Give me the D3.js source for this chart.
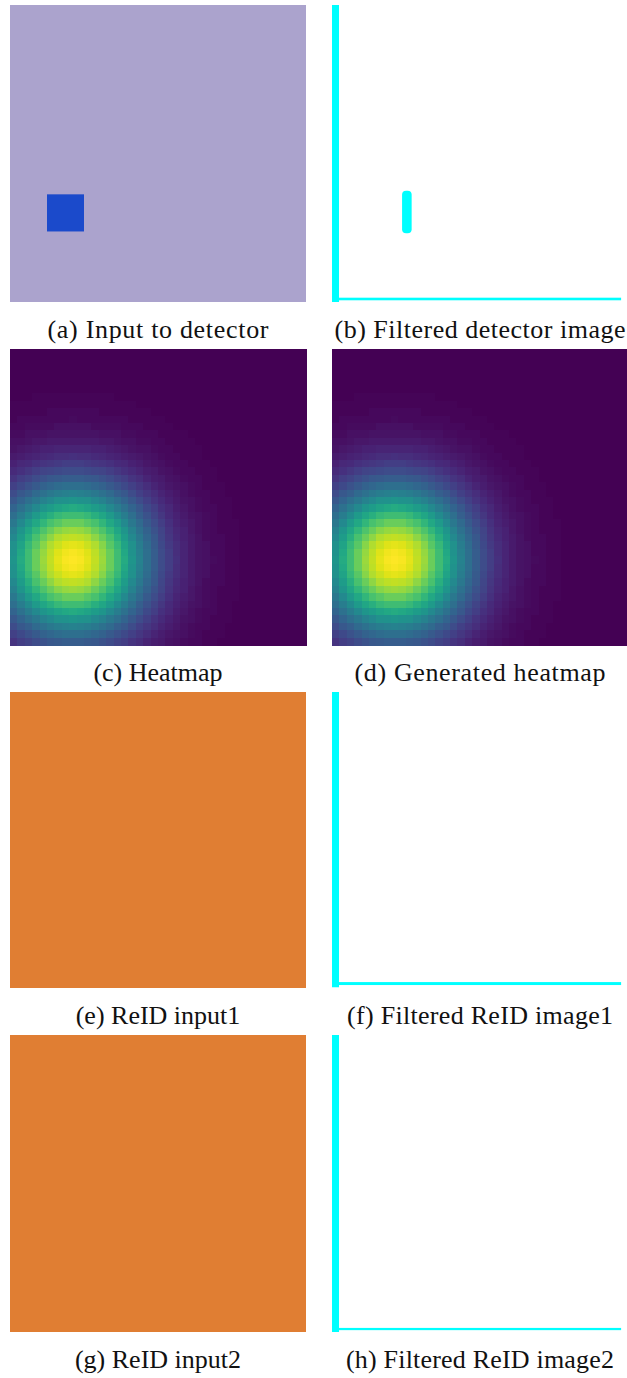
<!DOCTYPE html>
<html>
<head>
<meta charset="utf-8">
<script src="https://cdn.jsdelivr.net/npm/d3@7"></script>
<style>
  html, body { margin: 0; padding: 0; background: #ffffff; }
  svg { display: block; }
</style>
</head>
<body>
<svg id="chart" width="627" height="1378"></svg>
<script>
// ---------------- DATA ----------------
const captions = [
  "(a) Input to detector", "(b) Filtered detector image",
  "(c) Heatmap", "(d) Generated heatmap",
  "(e) ReID input1", "(f) Filtered ReID image1",
  "(g) ReID input2", "(h) Filtered ReID image2"
];

// image grid is 40 x 40 units
const gridSize = 40;

// (a) detector input: target square (grid units)
const detectorSquare = [{ x0: 5, x1: 10, y0: 25.5, y1: 30.5 }];

// cyan segments of filtered images (grid units)
const filteredDetector = [
  { x0: 0, x1: 0.95, y0: 0, y1: 40 },
  { x0: 0.95, x1: 39.2, y0: 39.42, y1: 39.77 },
  { x0: 9.5, x1: 10.8, y0: 25.0, y1: 30.75 }
];
const filteredReID1 = [
  { x0: 0, x1: 0.95, y0: 0, y1: 39.9 },
  { x0: 0.95, x1: 39.2, y0: 39.2, y1: 39.6 }
];
const filteredReID2 = [
  { x0: 0, x1: 0.95, y0: 0, y1: 40 },
  { x0: 0.95, x1: 39.2, y0: 39.45, y1: 39.75 }
];

// heatmap values in percent (rows top -> bottom, cols left -> right)
const heatmapRows = [
  [0,0,0,0,0,0,0,0,0,0,0,0,0,0,0,0,0,0,0,0,0,0,0,0,0,0,0,0,0,0,0,0,0,0,0,0,0,0,0,0],
  [0,0,0,0,0,0,0,0,0,0,0,0,0,0,0,0,0,0,0,0,0,0,0,0,0,0,0,0,0,0,0,0,0,0,0,0,0,0,0,0],
  [0,0,0,0,0,0,0,0,0,0,0,0,0,0,0,0,0,0,0,0,0,0,0,0,0,0,0,0,0,0,0,0,0,0,0,0,0,0,0,0],
  [0,0,0,0,0,0,0,0,0,0,0,0,0,0,0,0,0,0,0,0,0,0,0,0,0,0,0,0,0,0,0,0,0,0,0,0,0,0,0,0],
  [0,0,0,0,0,0,0,0,0,0,0,0,0,0,0,0,0,0,0,0,0,0,0,0,0,0,0,0,0,0,0,0,0,0,0,0,0,0,0,0],
  [0,0,0,0,0,0,0,0,0,0,0,0,0,0,0,0,0,0,0,0,0,0,0,0,0,0,0,0,0,0,0,0,0,0,0,0,0,0,0,0],
  [0,0,0,1,1,1,1,1,1,1,1,1,1,1,0,0,0,0,0,0,0,0,0,0,0,0,0,0,0,0,0,0,0,0,0,0,0,0,0,0],
  [1,1,1,1,1,1,1,1,1,1,1,1,1,1,1,1,1,0,0,0,0,0,0,0,0,0,0,0,0,0,0,0,0,0,0,0,0,0,0,0],
  [1,1,1,1,1,2,2,2,2,2,2,2,1,1,1,1,1,1,1,0,0,0,0,0,0,0,0,0,0,0,0,0,0,0,0,0,0,0,0,0],
  [1,2,2,2,2,2,2,2,3,2,2,2,2,2,2,2,1,1,1,1,1,0,0,0,0,0,0,0,0,0,0,0,0,0,0,0,0,0,0,0],
  [2,2,3,3,3,3,4,4,4,4,4,3,3,3,3,2,2,2,1,1,1,1,0,0,0,0,0,0,0,0,0,0,0,0,0,0,0,0,0,0],
  [3,3,4,4,4,5,5,5,5,5,5,5,4,4,4,3,3,2,2,2,1,1,1,1,0,0,0,0,0,0,0,0,0,0,0,0,0,0,0,0],
  [4,4,5,6,6,7,7,7,7,7,7,7,6,6,5,4,4,3,3,2,2,1,1,1,1,0,0,0,0,0,0,0,0,0,0,0,0,0,0,0],
  [5,6,7,8,9,9,10,10,10,10,10,9,9,8,7,6,5,4,4,3,2,2,1,1,1,1,0,0,0,0,0,0,0,0,0,0,0,0,0,0],
  [7,8,9,10,11,12,13,13,14,13,13,12,11,10,9,8,7,6,5,4,3,2,2,1,1,1,0,0,0,0,0,0,0,0,0,0,0,0,0,0],
  [9,11,12,14,15,16,17,18,18,18,17,16,15,14,12,11,9,8,6,5,4,3,2,2,1,1,1,0,0,0,0,0,0,0,0,0,0,0,0,0],
  [12,14,16,18,20,21,22,23,23,23,22,21,20,18,16,14,12,10,8,7,5,4,3,2,2,1,1,1,0,0,0,0,0,0,0,0,0,0,0,0],
  [15,18,20,23,25,27,28,29,29,29,28,27,25,23,20,18,15,13,10,8,7,5,4,3,2,2,1,1,0,0,0,0,0,0,0,0,0,0,0,0],
  [19,22,25,28,31,33,35,36,36,36,35,33,31,28,25,22,19,16,13,10,8,6,5,4,3,2,1,1,1,0,0,0,0,0,0,0,0,0,0,0],
  [23,27,30,34,37,40,42,43,44,43,42,40,37,34,30,27,23,19,16,13,10,8,6,4,3,2,2,1,1,0,0,0,0,0,0,0,0,0,0,0],
  [27,32,36,40,44,47,50,51,52,51,50,47,44,40,36,32,27,23,19,15,12,9,7,5,4,3,2,1,1,1,0,0,0,0,0,0,0,0,0,0],
  [32,37,42,47,52,55,58,60,61,60,58,55,52,47,42,37,32,27,22,18,14,11,8,6,4,3,2,2,1,1,0,0,0,0,0,0,0,0,0,0],
  [36,42,48,54,59,63,67,69,69,69,67,63,59,54,48,42,36,30,25,20,16,12,9,7,5,4,3,2,1,1,0,0,0,0,0,0,0,0,0,0],
  [40,47,54,60,66,71,74,77,77,77,74,71,66,60,54,47,40,34,28,23,18,14,10,8,6,4,3,2,1,1,1,0,0,0,0,0,0,0,0,0],
  [44,52,59,66,72,77,82,84,85,84,82,77,72,66,59,52,44,37,31,25,20,15,11,9,6,4,3,2,1,1,1,0,0,0,0,0,0,0,0,0],
  [47,55,63,71,77,83,88,90,91,90,88,83,77,71,63,55,47,40,33,27,21,16,12,9,7,5,3,2,2,1,1,0,0,0,0,0,0,0,0,0],
  [50,58,67,74,82,88,92,95,96,95,92,88,82,74,67,58,50,42,35,28,22,17,13,10,7,5,4,2,2,1,1,0,0,0,0,0,0,0,0,0],
  [51,60,69,77,84,90,95,98,99,98,95,90,84,77,69,60,51,43,36,29,23,18,13,10,7,5,4,2,2,1,1,0,0,0,0,0,0,0,0,0],
  [52,61,69,77,85,91,96,99,100,99,96,91,85,77,69,61,52,44,36,29,23,18,14,10,7,5,4,3,2,1,1,0,0,0,0,0,0,0,0,0],
  [51,60,69,77,84,90,95,98,99,98,95,90,84,77,69,60,51,43,36,29,23,18,13,10,7,5,4,2,2,1,1,0,0,0,0,0,0,0,0,0],
  [50,58,67,74,82,88,92,95,96,95,92,88,82,74,67,58,50,42,35,28,22,17,13,10,7,5,4,2,2,1,1,0,0,0,0,0,0,0,0,0],
  [47,55,63,71,77,83,88,90,91,90,88,83,77,71,63,55,47,40,33,27,21,16,12,9,7,5,3,2,2,1,1,0,0,0,0,0,0,0,0,0],
  [44,52,59,66,72,77,82,84,85,84,82,77,72,66,59,52,44,37,31,25,20,15,11,9,6,4,3,2,1,1,1,0,0,0,0,0,0,0,0,0],
  [40,47,54,60,66,71,74,77,77,77,74,71,66,60,54,47,40,34,28,23,18,14,10,8,6,4,3,2,1,1,1,0,0,0,0,0,0,0,0,0],
  [36,42,48,54,59,63,67,69,69,69,67,63,59,54,48,42,36,30,25,20,16,12,9,7,5,4,3,2,1,1,0,0,0,0,0,0,0,0,0,0],
  [32,37,42,47,52,55,58,60,61,60,58,55,52,47,42,37,32,27,22,18,14,11,8,6,4,3,2,2,1,1,0,0,0,0,0,0,0,0,0,0],
  [27,32,36,40,44,47,50,51,52,51,50,47,44,40,36,32,27,23,19,15,12,9,7,5,4,3,2,1,1,1,0,0,0,0,0,0,0,0,0,0],
  [23,27,30,34,37,40,42,43,44,43,42,40,37,34,30,27,23,19,16,13,10,8,6,4,3,2,2,1,1,0,0,0,0,0,0,0,0,0,0,0],
  [19,22,25,28,31,33,35,36,36,36,35,33,31,28,25,22,19,16,13,10,8,6,5,4,3,2,1,1,1,0,0,0,0,0,0,0,0,0,0,0],
  [15,18,20,23,25,27,28,29,29,29,28,27,25,23,20,18,15,13,10,8,7,5,4,3,2,2,1,1,0,0,0,0,0,0,0,0,0,0,0,0]
];
const generatedHeatmapRows = heatmapRows;

// ---------------- LAYOUT ----------------
const colX = [[10, 306], [332, 627]];
const rowY = [[5, 302], [349, 645], [692, 988], [1035, 1332]];
const captionBaseline = [338, 681, 1024, 1368];
const captionCenterX = [158, 480];
const captionWidth = [221, 291, null, 251, null, 266, null, 268];

const svg = d3.select("#chart");

function scalesFor(col, row) {
  const x = d3.scaleLinear().domain([0, gridSize]).range(colX[col]);
  const y = d3.scaleLinear().domain([0, gridSize]).range(rowY[row]);
  return { x, y };
}

function drawRects(g, data, s, color, rx) {
  return g.selectAll(null).data(data).enter().append("rect")
    .attr("x", d => s.x(d.x0))
    .attr("y", d => s.y(d.y0))
    .attr("width", d => s.x(d.x1) - s.x(d.x0))
    .attr("height", d => s.y(d.y1) - s.y(d.y0))
    .attr("rx", rx || 0)
    .attr("fill", color);
}

function drawHeatmap(g, rows, col, row) {
  const idx = d3.range(gridSize);
  const x = d3.scaleBand().domain(idx).range(colX[col]);
  const y = d3.scaleBand().domain(idx).range(rowY[row]);
  const color = d3.scaleSequential(d3.interpolateViridis).domain([0, 100]);
  const cells = [];
  rows.forEach((r, ri) => r.forEach((v, ci) => cells.push({ r: ri, c: ci, v })));
  g.selectAll(null).data(cells).enter().append("rect")
    .attr("x", d => x(d.c))
    .attr("y", d => y(d.r))
    .attr("width", x.bandwidth() + 0.5)
    .attr("height", y.bandwidth() + 0.5)
    .attr("shape-rendering", "crispEdges")
    .attr("fill", d => color(d.v));
}

// (a)
{
  const s = scalesFor(0, 0);
  const g = svg.append("g");
  drawRects(g, [{ x0: 0, x1: gridSize, y0: 0, y1: gridSize }], s, "#aba3cd");
  drawRects(g, detectorSquare, s, "#1b4acb");
}
// (b)
{
  const s = scalesFor(1, 0);
  const g = svg.append("g");
  drawRects(g, filteredDetector, s, "#00ffff", 0)
    .filter((d, i) => i === 2).attr("rx", 4);
}
// (c), (d)
drawHeatmap(svg.append("g"), heatmapRows, 0, 1);
drawHeatmap(svg.append("g"), generatedHeatmapRows, 1, 1);
// (e), (g)
{
  const s1 = scalesFor(0, 2), s2 = scalesFor(0, 3);
  drawRects(svg.append("g"), [{ x0: 0, x1: gridSize, y0: 0, y1: gridSize }], s1, "#e07e33");
  drawRects(svg.append("g"), [{ x0: 0, x1: gridSize, y0: 0, y1: gridSize }], s2, "#e07e33");
}
// (f), (h)
drawRects(svg.append("g"), filteredReID1, scalesFor(1, 2), "#00ffff");
drawRects(svg.append("g"), filteredReID2, scalesFor(1, 3), "#00ffff");

// captions
const capText = svg.append("g").selectAll("text").data(captions).enter().append("text")
  .attr("x", (d, i) => captionCenterX[i % 2])
  .attr("y", (d, i) => captionBaseline[Math.floor(i / 2)])
  .attr("text-anchor", "middle")
  .attr("font-family", "'Liberation Serif', 'DejaVu Serif', serif")
  .attr("font-size", 26)
  .attr("fill", "#111111")
  .text(d => d);
capText.filter((d, i) => captionWidth[i] != null)
  .attr("textLength", (d) => captionWidth[captions.indexOf(d)])
  .attr("lengthAdjust", "spacing");
</script>
</body>
</html>
